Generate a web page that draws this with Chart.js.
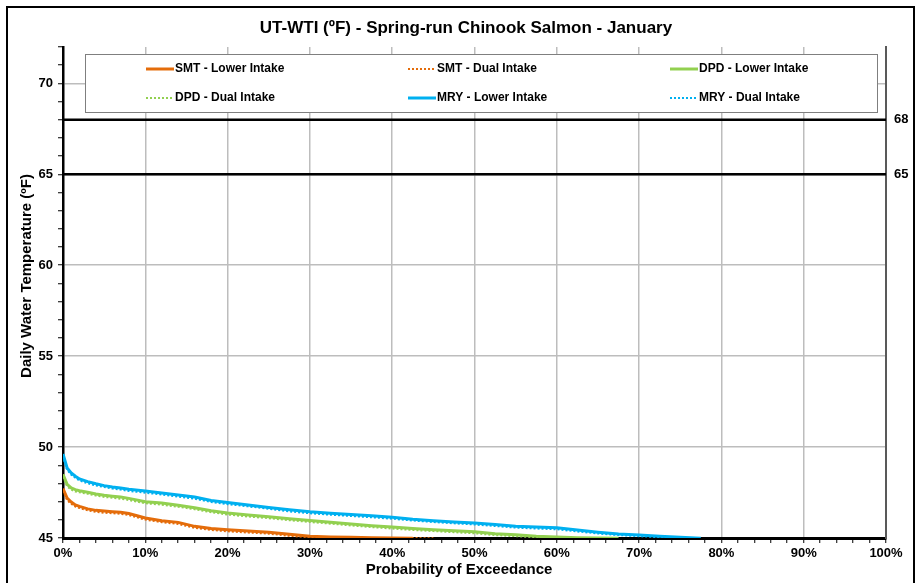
<!DOCTYPE html>
<html>
<head>
<meta charset="utf-8">
<script src="https://cdn.jsdelivr.net/npm/chart.js@4.4.1/dist/chart.umd.min.js"></script>
<style>
html,body{margin:0;padding:0;background:#fff;}
#wrap{width:922px;height:583px;position:relative;}
</style>
</head>
<body>
<div id="wrap"><canvas id="c" width="922" height="583"></canvas></div>
<script>
// ---- data ----
const chartTitle = "UT-WTI (ºF) - Spring-run Chinook Salmon - January";
const xTitle = "Probability of Exceedance";
const yTitle = "Daily Water Temperature (ºF)";
const probs = [0,0.5,1,1.5,2,3,4,5,6,7,8,10,12,14,16,18,20,22.5,25,27.5,30,32.5,35,37.5,40,42.5,45,47.5,50,52.5,55,57.5,60,62.5,65,67.5,70,72.5,75,77.5];
const smtLower = [47.72,47.2,46.98,46.82,46.74,46.6,46.52,46.48,46.45,46.42,46.35,46.1,45.95,45.86,45.64,45.52,45.45,45.38,45.32,45.2,45.1,45.06,45.04,45.02,45.0,44.98,null,null,null,null,null,null,null,null,null,null,null,null,null,null];
const smtDual  = [47.62,47.08,46.88,46.73,46.65,46.52,46.44,46.39,46.36,46.33,46.26,46.01,45.87,45.77,45.56,45.44,45.37,45.3,45.24,45.12,45.04,45.02,45.01,45.0,45.0,45.0,44.98,null,null,null,null,null,null,null,null,null,null,null,null,null];
const dpdLower = [48.5,47.95,47.75,47.66,47.6,47.52,47.42,47.35,47.3,47.25,47.18,46.99,46.92,46.8,46.66,46.5,46.37,46.26,46.17,46.06,45.96,45.87,45.77,45.68,45.6,45.52,45.46,45.4,45.34,45.24,45.18,45.09,45.05,45.02,45.0,44.98,null,null,null,null];
const dpdDual  = [48.38,47.84,47.66,47.56,47.51,47.43,47.33,47.26,47.21,47.16,47.09,46.91,46.83,46.72,46.58,46.42,46.29,46.18,46.09,45.98,45.88,45.79,45.69,45.6,45.52,45.44,45.38,45.32,45.26,45.16,45.1,45.04,45.01,45.0,44.98,null,null,null,null,null];
const mryLower = [49.62,48.85,48.58,48.4,48.25,48.1,47.98,47.88,47.8,47.75,47.68,47.58,47.48,47.36,47.25,47.06,46.95,46.82,46.68,46.55,46.44,46.36,46.29,46.22,46.14,46.03,45.95,45.88,45.82,45.74,45.64,45.6,45.56,45.44,45.32,45.22,45.17,45.1,45.04,44.98];
const mryDual  = [49.5,48.74,48.48,48.31,48.16,48.01,47.89,47.8,47.72,47.66,47.59,47.49,47.39,47.28,47.16,46.98,46.86,46.74,46.6,46.46,46.36,46.28,46.21,46.14,46.06,45.96,45.88,45.81,45.74,45.66,45.57,45.52,45.48,45.36,45.25,45.16,45.1,45.04,45.0,44.96];
const seriesNames = ["SMT - Lower Intake","SMT - Dual Intake","DPD - Lower Intake","DPD - Dual Intake","MRY - Lower Intake","MRY - Dual Intake"];
const thresholds = [68, 65];
const xRange = [0, 100];
const yRange = [45, 72];

// ---- styling ----
const ORANGE = '#E46C0A', GREEN = '#92D050', BLUE = '#00B0F0';
const FONT = '"Liberation Sans", Arial, Helvetica, sans-serif';
Chart.defaults.font.family = FONT;
Chart.defaults.color = '#000';

function pts(vals){ const o=[]; vals.forEach((v,i)=>{ if(v!==null) o.push({x:probs[i], y:v}); }); return o; }

const seriesVals = [smtLower, smtDual, dpdLower, dpdDual, mryLower, mryDual];
const seriesColors = [ORANGE, ORANGE, GREEN, GREEN, BLUE, BLUE];
const seriesDotted = [false, true, false, true, false, true];

const datasets = seriesVals.map((vals,i)=>({
  label: seriesNames[i],
  data: pts(vals),
  borderColor: seriesColors[i],
  backgroundColor: seriesColors[i],
  borderWidth: seriesDotted[i] ? 2 : 3,
  borderDash: seriesDotted[i] ? [2,2] : [],
  pointRadius: 0,
  tension: 0,
  fill: false
}));
thresholds.forEach(t=>{
  datasets.push({
    label: 'thr'+t,
    data: [{x:xRange[0], y:t},{x:xRange[1], y:t}],
    borderColor: '#000', borderWidth: 2.5, pointRadius: 0, fill:false
  });
});

const deco = {
  id: 'deco',
  beforeDatasetsDraw(chart){
    const ctx = chart.ctx;
    ctx.save();
    ctx.fillStyle = '#fff';
    ctx.fillRect(85, 54, 793, 58);
    ctx.strokeStyle = '#7f7f7f';
    ctx.lineWidth = 1;
    ctx.strokeRect(85.5, 54.5, 792, 58);
    const cols = [146, 408, 670];
    const rows = [69, 98];
    ctx.font = 'bold 12px ' + FONT;
    ctx.textBaseline = 'middle';
    ctx.textAlign = 'left';
    seriesNames.forEach((name,i)=>{
      const cx = cols[i%3], cy = rows[Math.floor(i/3)];
      ctx.beginPath();
      ctx.strokeStyle = seriesColors[i];
      ctx.lineWidth = seriesDotted[i] ? 2 : 3;
      ctx.setLineDash(seriesDotted[i] ? [2,2] : []);
      ctx.moveTo(cx, cy); ctx.lineTo(cx+28, cy);
      ctx.stroke();
      ctx.setLineDash([]);
      ctx.fillStyle = '#000';
      ctx.fillText(name, cx+29, cy);
    });
    ctx.restore();
  },
  afterDraw(chart){
    const ctx = chart.ctx;
    ctx.save();
    ctx.fillStyle = '#000';
    ctx.textAlign = 'center';
    ctx.textBaseline = 'middle';
    ctx.font = 'bold 17px ' + FONT;
    ctx.fillText(chartTitle, 466, 28);
    ctx.font = 'bold 15px ' + FONT;
    ctx.fillText(xTitle, 459, 570);
    ctx.translate(27, 276);
    ctx.rotate(-Math.PI/2);
    ctx.fillText(yTitle, 0, 0);
    ctx.restore();
    ctx.save();
    ctx.strokeStyle = '#000';
    ctx.lineWidth = 2;
    ctx.strokeRect(7, 7, 907, 600);
    ctx.restore();
  }
};

new Chart(document.getElementById('c'), {
  type: 'line',
  data: { datasets },
  options: {
    responsive: false,
    animation: false,
    layout: { padding: { left: 0, right: 0, top: 47, bottom: 0 } },
    plugins: { legend: { display: false }, title: { display: false }, tooltip: { enabled: false } },
    scales: {
      x: {
        type: 'linear', min: xRange[0], max: xRange[1],
        afterBuildTicks: (axis)=>{ const t=[]; for(let v=xRange[0]; v<=xRange[1]; v+=2) t.push({value:v}); axis.ticks=t; },
        afterFit: (s)=>{ s.height = 45; },
        ticks: { autoSkip: false, maxRotation: 0, padding: 3,
          font: { size: 13, weight: 'bold' },
          callback: (v)=> (v % 10 === 0) ? v + '%' : '' },
        grid: {
          color: (c)=> (c.tick && c.tick.value % 10 === 0 && c.tick.value !== 0 && c.tick.value !== 100) ? '#bdbdbd' : 'rgba(0,0,0,0)',
          lineWidth: 1.5,
          tickColor: '#000', tickLength: 5, tickWidth: 1
        },
        border: { color: '#000', width: 3 }
      },
      y: {
        type: 'linear', position: 'left', min: yRange[0], max: yRange[1],
        afterBuildTicks: (axis)=>{ const t=[]; for(let v=yRange[0]; v<=yRange[1]; v+=1) t.push({value:v}); axis.ticks=t; },
        afterFit: (s)=>{ s.width = 63; },
        ticks: { autoSkip: false, padding: 5,
          font: { size: 13, weight: 'bold' },
          callback: (v)=> (v % 5 === 0) ? String(v) : '' },
        grid: {
          color: (c)=> (c.tick && c.tick.value % 5 === 0 && c.tick.value !== 45) ? '#bdbdbd' : 'rgba(0,0,0,0)',
          lineWidth: 1.5,
          tickColor: '#000', tickLength: 5, tickWidth: 1
        },
        border: { color: '#000', width: 2.5 }
      },
      y2: {
        type: 'linear', position: 'right', min: yRange[0], max: yRange[1],
        afterBuildTicks: (axis)=>{ axis.ticks = thresholds.map(v=>({value:v})); },
        afterFit: (s)=>{ s.width = 36; },
        ticks: { autoSkip: false, padding: 8, font: { size: 13, weight: 'bold' } },
        grid: { drawOnChartArea: false, drawTicks: false },
        border: { color: '#595959', width: 2 }
      }
    }
  },
  plugins: [deco]
});
</script>
</body>
</html>
